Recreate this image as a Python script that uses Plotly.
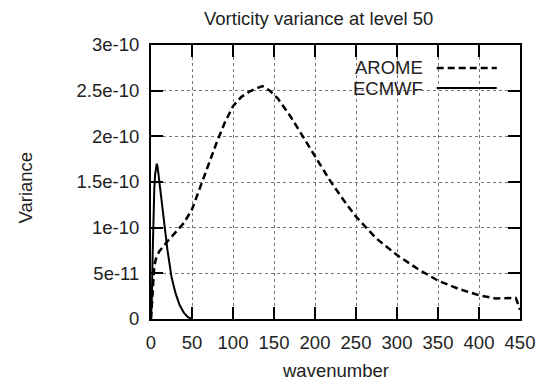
import plotly.graph_objects as go

# AROME vorticity variance spectrum
arome_k = [0, 2, 4, 6, 10, 20, 30, 40, 50, 60, 70, 80, 90, 100, 110, 120, 130, 136,
           145, 155, 170, 185, 200, 218, 235, 250, 275, 300, 325, 350, 375, 400,
           420, 435, 445, 450]
arome_v = [0, 3.5e-11, 5.8e-11, 6.6e-11, 7.4e-11, 8.5e-11, 9.5e-11, 1.05e-10, 1.2e-10,
           1.45e-10, 1.7e-10, 1.93e-10, 2.15e-10, 2.33e-10, 2.43e-10, 2.49e-10, 2.53e-10,
           2.55e-10, 2.5e-10, 2.41e-10, 2.22e-10, 2.0e-10, 1.78e-10, 1.52e-10, 1.3e-10,
           1.12e-10, 8.8e-11, 7.0e-11, 5.5e-11, 4.2e-11, 3.3e-11, 2.6e-11, 2.25e-11,
           2.3e-11, 2.3e-11, 1.0e-11]

# ECMWF vorticity variance spectrum
ecmwf_k = [0, 1, 2, 3, 4, 5, 6, 7, 8, 10, 12.7, 15, 18.8, 20, 25, 30, 35, 40, 45, 50]
ecmwf_v = [0, 2e-11, 7e-11, 1.15e-10, 1.42e-10, 1.58e-10, 1.67e-10, 1.70e-10, 1.67e-10,
           1.52e-10, 1.30e-10, 1.12e-10, 8.3e-11, 7.6e-11, 4.6e-11, 2.8e-11, 1.5e-11,
           7e-12, 2e-12, 0]

x_ticks = [0, 50, 100, 150, 200, 250, 300, 350, 400, 450]
y_ticks = [0, 5e-11, 1e-10, 1.5e-10, 2e-10, 2.5e-10, 3e-10]
y_ticktext = ["0", "5e-11", "1e-10", "1.5e-10", "2e-10", "2.5e-10", "3e-10"]

FONT = "Liberation Sans, Arial, sans-serif"
FS = 18.5
TXT = "#222222"

fig = go.Figure()
fig.add_trace(go.Scatter(x=arome_k, y=arome_v, mode="lines", name="AROME",
                         line=dict(color="black", width=2.5, dash="7px,4px")))
fig.add_trace(go.Scatter(x=ecmwf_k, y=ecmwf_v, mode="lines", name="ECMWF",
                         line=dict(color="black", width=2)))

axis_common = dict(showline=True, linecolor="black", linewidth=2, mirror="ticks",
                   ticks="inside", ticklen=12, tickwidth=2, tickcolor="black",
                   showgrid=True, gridcolor="#777777", gridwidth=1, griddash="dot",
                   zeroline=False, tickfont=dict(family=FONT, size=FS, color=TXT))

fig.update_xaxes(range=[0, 450], tickvals=x_ticks, ticklabelstandoff=6, **axis_common)
fig.update_yaxes(range=[0, 3e-10], tickvals=y_ticks, ticktext=y_ticktext,
                 ticklabelstandoff=6, **axis_common)

# legend box (gnuplot style: label left of sample)
fig.add_shape(type="rect", xref="paper", yref="paper", x0=0.549, x1=0.966, y0=0.811, y1=0.958,
              fillcolor="white", line=dict(width=0), layer="between")
fig.add_shape(type="line", xref="paper", yref="paper", x0=0.7743, x1=0.937, y0=0.9165, y1=0.9165,
              line=dict(color="black", width=2.5, dash="7px,4px"))
fig.add_shape(type="line", xref="paper", yref="paper", x0=0.7743, x1=0.937, y0=0.843, y1=0.843,
              line=dict(color="black", width=2))
fig.add_annotation(text="AROME", xref="paper", yref="paper", x=0.7417, y=0.9165,
                   xanchor="right", yanchor="middle", showarrow=False,
                   font=dict(family=FONT, size=FS, color=TXT))
fig.add_annotation(text="ECMWF", xref="paper", yref="paper", x=0.7417, y=0.843,
                   xanchor="right", yanchor="middle", showarrow=False,
                   font=dict(family=FONT, size=FS, color=TXT))

# titles
fig.add_annotation(text="Vorticity variance at level 50", xref="paper", yref="paper",
                   x=0.4545, y=1.0, yshift=27, xanchor="center", yanchor="middle",
                   showarrow=False, font=dict(family=FONT, size=FS, color=TXT))
fig.add_annotation(text="wavenumber", xref="paper", yref="paper",
                   x=0.5, y=0, yshift=-51, xanchor="center", yanchor="middle",
                   showarrow=False, font=dict(family=FONT, size=FS, color=TXT))
fig.add_annotation(text="Variance", xref="paper", yref="paper",
                   x=0, xshift=-126, y=0.48, xanchor="center", yanchor="middle", textangle=-90,
                   showarrow=False, font=dict(family=FONT, size=FS, color=TXT))

fig.update_layout(width=552, height=390, showlegend=False,
                  margin=dict(l=151, r=32, t=45, b=71),
                  paper_bgcolor="white", plot_bgcolor="white")

fig.write_html("out.html")
